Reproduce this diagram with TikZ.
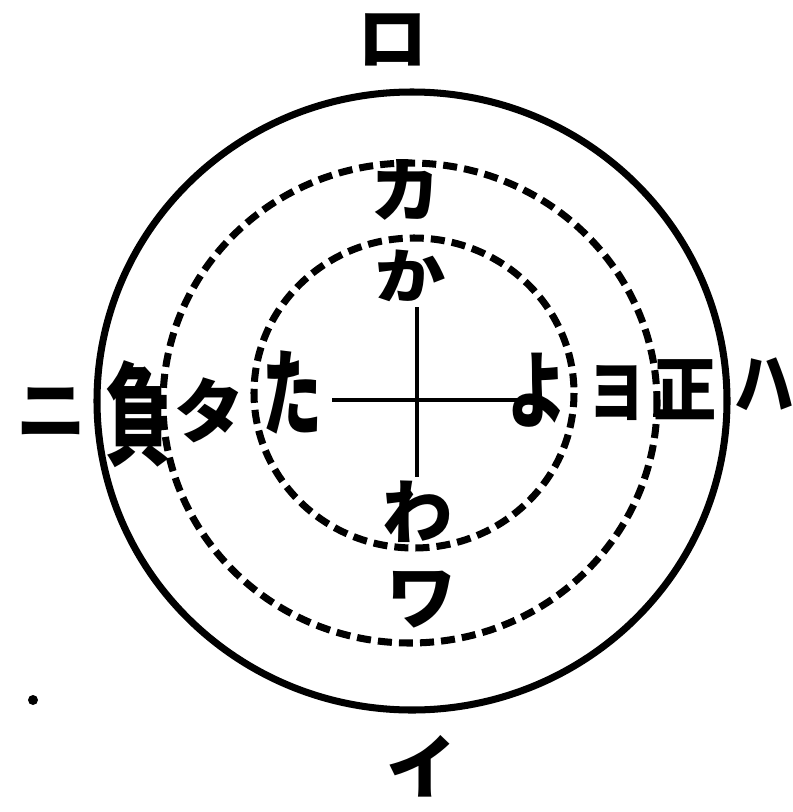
\documentclass[tikz,border=0pt]{standalone}
\usepackage{fontspec}
\newfontfamily\cjk{Noto Sans CJK JP}
\begin{document}
\begin{tikzpicture}[x=0.03cm,y=-0.03cm,
  ring/.style={line width=6pt},
  dring/.style={line width=6pt,dash pattern=on 12pt off 6pt},
  axis/.style={line width=4pt},
  lab/.style={font=\cjk\bfseries\fontsize{60}{60}\selectfont,inner sep=0pt},
  biglab/.style={font=\cjk\bfseries\fontsize{66}{66}\selectfont,inner sep=0pt}]
\useasboundingbox (0,0) rectangle (793,812);
\fill[white] (0,0) rectangle (793,812);
% rings
\draw[ring] (412,401) ellipse [x radius=315, y radius=309];
\draw[dring] (410,403) ellipse [x radius=247, y radius=240];
\draw[dring] (414,393) ellipse [x radius=160, y radius=155];
% cross
\coordinate (hl) at (332,400);
\coordinate (hr) at (520,400);
\coordinate (vt) at (417,307);
\coordinate (vb) at (417,477);
\draw[axis] (hl) -- (hr);
\draw[axis] (vt) -- (vb);
% outer labels
\node[lab] (ro) at (393,40) {ロ};
\node[lab] (i) at (422,766) {イ};
\node[lab] (ni) at (52,412) {ニ};
\node[lab,xscale=0.85] (ha) at (764,384) {ハ};
\node[biglab,yscale=1.45,xscale=0.85] (fu) at (138,414) {負};
\node[lab,xscale=0.9] (sei) at (685,390) {正};
% middle ring labels
\node[lab] (ka) at (406,190) {カ};
\node[lab] (wa) at (422,600) {ワ};
\node[lab] (ta) at (210,410) {タ};
\node[lab,xscale=0.8] (yo) at (617,393) {ヨ};
% inner ring labels
\node[lab,yscale=0.85] (hka) at (411,276) {か};
\node[lab] (hwa) at (418,512) {わ};
\node[lab,yscale=1.35,xscale=0.85] (hta) at (292,392) {た};
\node[lab,yscale=1.2,xscale=0.85] (hyo) at (537,390) {よ};
% speck
\fill (33,700) circle (5);
\end{tikzpicture}
\end{document}
